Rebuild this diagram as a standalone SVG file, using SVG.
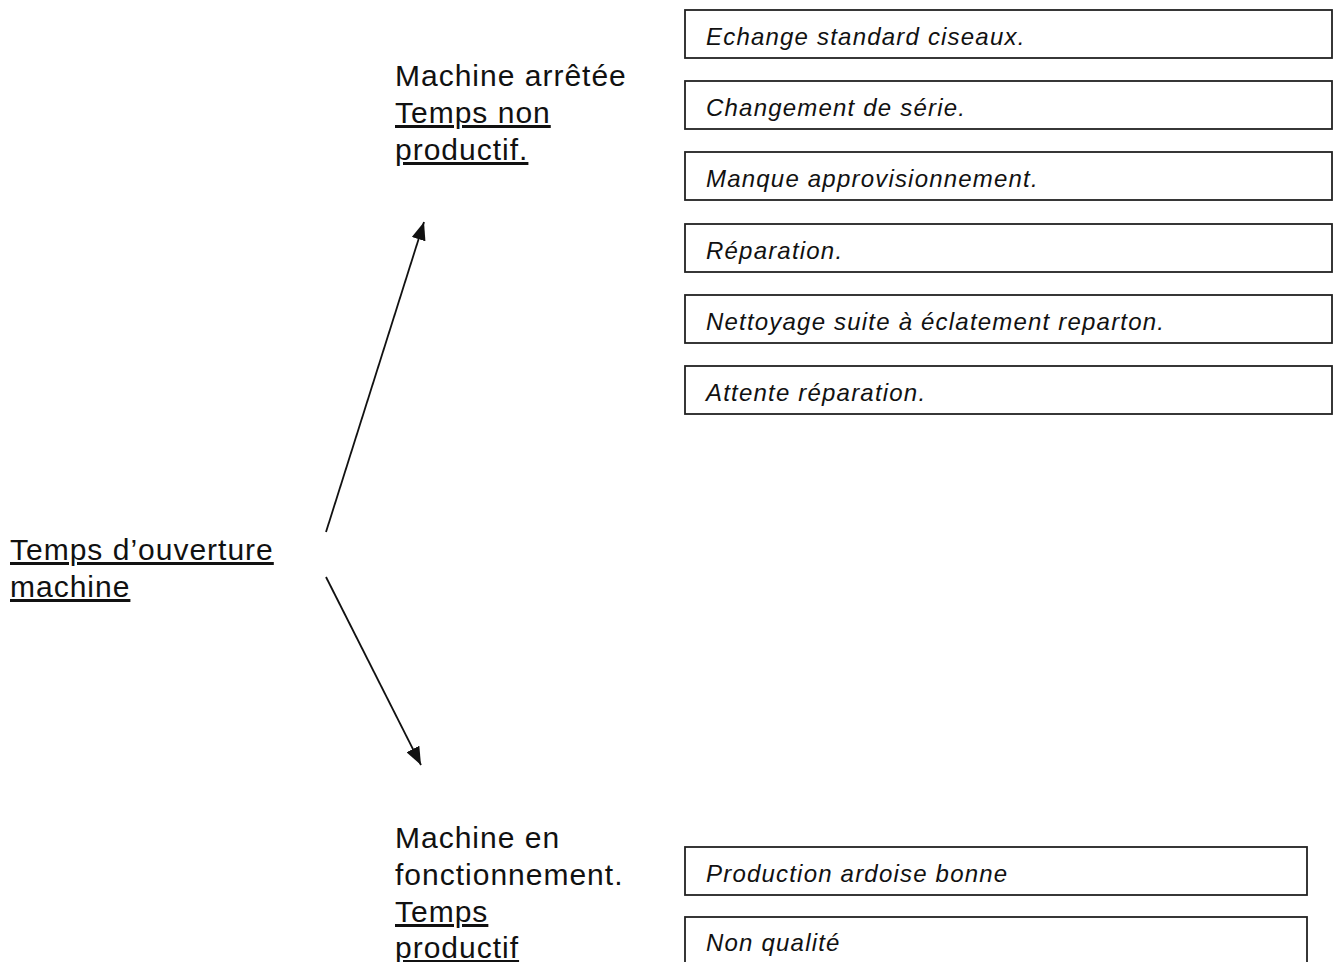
<svg xmlns="http://www.w3.org/2000/svg" width="1338" height="962" viewBox="0 0 1338 962">
<style>
.lbl{font-family:"Liberation Sans",Arial,sans-serif;font-size:30px;letter-spacing:1px;fill:#111}
.u{text-decoration:underline}
.box rect{fill:#fff;stroke:#222;stroke-width:1.8}
.box text{font-family:"Liberation Sans",Arial,sans-serif;font-size:24px;letter-spacing:1.2px;font-style:italic;fill:#111}
.conn line{stroke:#111;stroke-width:1.8}
</style>
<defs>
<marker id="ah" viewBox="0 0 10 10" refX="10" refY="5" markerWidth="10" markerHeight="8" markerUnits="strokeWidth" orient="auto" preserveAspectRatio="none">
<path d="M0,0 L10,5 L0,10 z" fill="#111"/>
</marker>
</defs>
<rect width="1338" height="962" fill="#fff"/>
<g id="root-label">
<text class="lbl u" x="10" y="560">Temps d’ouverture</text>
<text class="lbl u" x="10" y="597">machine</text>
</g>
<g id="stopped-label">
<text class="lbl" x="395" y="86">Machine arrêtée</text>
<text class="lbl u" x="395" y="123">Temps non</text>
<text class="lbl u" x="395" y="160">productif.</text>
</g>
<g id="running-label">
<text class="lbl" x="395" y="848">Machine en</text>
<text class="lbl" x="395" y="885">fonctionnement.</text>
<text class="lbl u" x="395" y="922">Temps</text>
<text class="lbl u" x="395" y="958">productif</text>
</g>
<g class="conn" id="connectors">
<line x1="326" y1="532" x2="424" y2="222" marker-end="url(#ah)"/>
<line x1="326" y1="577" x2="421" y2="765" marker-end="url(#ah)"/>
</g>
<g class="box" id="box1"><rect x="685" y="10" width="647" height="48"/><text x="706" y="45">Echange standard ciseaux.</text></g>
<g class="box" id="box2"><rect x="685" y="81" width="647" height="48"/><text x="706" y="116">Changement de série.</text></g>
<g class="box" id="box3"><rect x="685" y="152" width="647" height="48"/><text x="706" y="187">Manque approvisionnement.</text></g>
<g class="box" id="box4"><rect x="685" y="224" width="647" height="48"/><text x="706" y="259">Réparation.</text></g>
<g class="box" id="box5"><rect x="685" y="295" width="647" height="48"/><text x="706" y="330">Nettoyage suite à éclatement reparton.</text></g>
<g class="box" id="box6"><rect x="685" y="366" width="647" height="48"/><text x="706" y="401">Attente réparation.</text></g>
<g class="box" id="box7"><rect x="685" y="847" width="622" height="48"/><text x="706" y="882">Production ardoise bonne</text></g>
<g class="box" id="box8"><rect x="685" y="917" width="622" height="60"/><text x="706" y="951">Non qualité</text></g>
</svg>
